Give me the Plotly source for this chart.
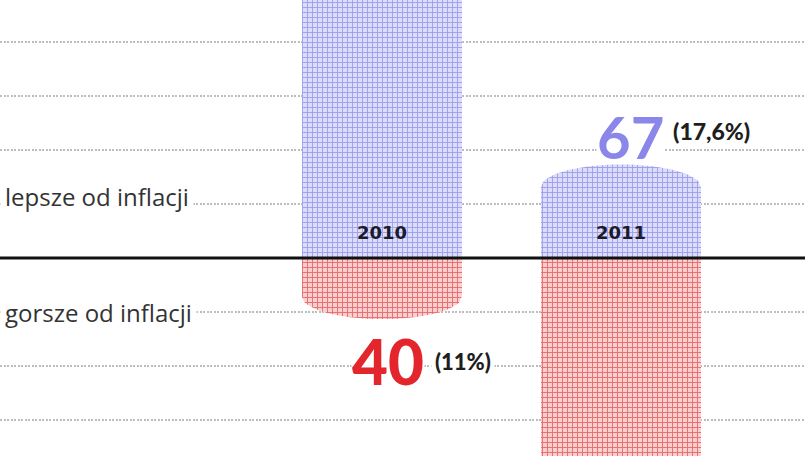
import numpy as np
import plotly.graph_objects as go

# ---- data ----
years = ["2010", "2011"]
better = [324, 67]      # funds better than inflation (2010 value runs off the top, estimated)
worse = [40, 314]       # funds worse than inflation (2011 value runs off the bottom, estimated)
better_pct = ["", "(17,6%)"]
worse_pct = ["(11%)", ""]
side_labels = ["lepsze od inflacji", "gorsze od inflacji"]

# ---- style ----
BLUE_BG, BLUE_FG = "#dcdcfb", "#a0a0ec"
RED_BG, RED_FG = "#fbcfcf", "#e56f6f"
BAR_W = 0.67
CAP_DROP, CAP_RISE = 8, 11

fig = go.Figure()

def pattern(bg, fg):
    return dict(shape="+", size=5, solidity=0.35, bgcolor=bg, fgcolor=fg, fillmode="replace")

# bar bodies (end slightly before the value, the rounded cap finishes them)
fig.add_trace(go.Bar(x=years, y=[v - CAP_DROP for v in better], width=BAR_W,
                     marker=dict(color=BLUE_BG, line_width=0, pattern=pattern(BLUE_BG, BLUE_FG)),
                     hoverinfo="skip"))
fig.add_trace(go.Bar(x=years, y=[-(v - CAP_DROP) for v in worse], width=BAR_W,
                     marker=dict(color=RED_BG, line_width=0, pattern=pattern(RED_BG, RED_FG)),
                     hoverinfo="skip"))

# rounded caps
t = np.linspace(-0.5, 0.5, 61)
for i, yr in enumerate(years):
    for val, sign, bg, fg in ((better[i], 1, BLUE_BG, BLUE_FG), (worse[i], -1, RED_BG, RED_FG)):
        base = sign * (val - CAP_DROP - 0.5)
        top = sign * (val - CAP_DROP) + sign * (CAP_DROP + CAP_RISE) * np.sqrt(np.clip(1 - (2 * t) ** 2, 0, 1))
        xs = list(i + t * BAR_W) + list(i + t[::-1] * BAR_W)
        ys = list(top) + [base] * len(t)
        fig.add_trace(go.Scatter(x=xs, y=ys, mode="lines", line_width=0, fill="toself",
                                 fillcolor=bg, fillpattern=pattern(bg, fg),
                                 hoverinfo="skip", showlegend=False, xaxis="x2"))

fig.update_layout(
    barmode="relative",
    bargap=0,
    showlegend=False,
    width=805, height=456,
    margin=dict(l=0, r=0, t=0, b=0),
    paper_bgcolor="white", plot_bgcolor="white",
    xaxis=dict(type="category", range=[-1.598, 1.770], visible=False, fixedrange=True),
    xaxis2=dict(overlaying="x", range=[-1.598, 1.770], visible=False),
    yaxis=dict(range=[-165, 215], tick0=0, dtick=45, showticklabels=False,
               showgrid=True, gridcolor="#bdbdbd", gridwidth=2, griddash="2px,1.5px",
               zeroline=False, showline=False),
)

# zero line
fig.add_shape(type="line", xref="paper", x0=0, x1=1, yref="y", y0=0, y1=0,
              line=dict(color="#111111", width=3), layer="above")

# year labels inside bars
for i, yr in enumerate(years):
    fig.add_annotation(x=i, y=21, xref="x2", text=yr, showarrow=False,
                       font=dict(family="DejaVu Sans", size=18, color="#1b1b2b", weight="bold"))

# value callouts
fig.add_annotation(x=1.04, y=102, xref="x2", text=str(better[1]), showarrow=False,
                   font=dict(family="Lato", size=58, color="#8b86ea", weight="bold"),
                   bgcolor="white", borderpad=0, height=46)
fig.add_annotation(x=1.21, y=106, xref="x2", xanchor="left", text=better_pct[1], showarrow=False,
                   font=dict(family="Lato", size=23, color="#1e1e1e", weight=900))
fig.add_annotation(x=0.025, y=-86, xref="x2", text=str(worse[0]), showarrow=False,
                   font=dict(family="Lato", size=62, color="#e3262b", weight=900),
                   bgcolor="white", borderpad=0)
fig.add_annotation(x=0.205, y=-86, xref="x2", xanchor="left", text=worse_pct[0], showarrow=False,
                   font=dict(family="Lato", size=22, color="#1e1e1e", weight=900),
                   bgcolor="white", borderpad=3)

# side labels
for lab, yv in zip(side_labels, [51, -45]):
    fig.add_annotation(x=0, xref="paper", xanchor="left", y=yv, text=lab, showarrow=False,
                       font=dict(family="Open Sans", size=24, color="#333333"),
                       bgcolor="white", borderpad=4)

fig.write_html("out.html", config={"displayModeBar": False},
               post_script="document.body.style.margin='0';")
